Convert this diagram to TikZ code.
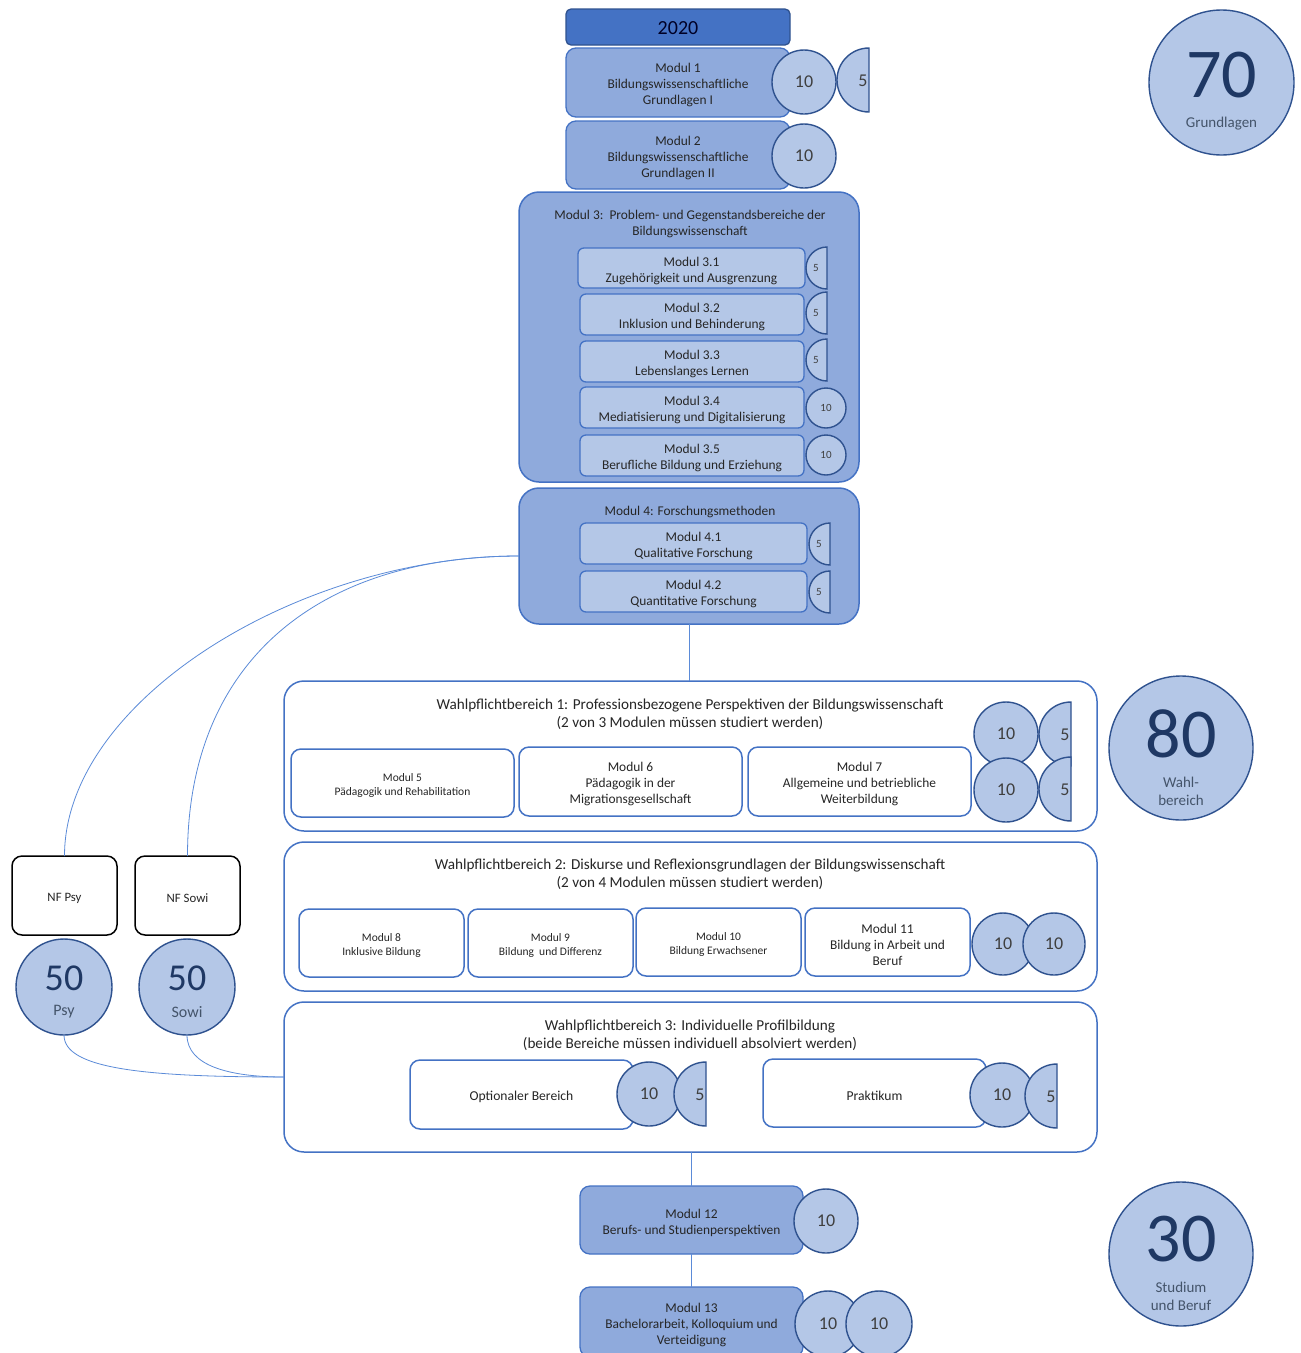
\documentclass[tikz,border=0pt]{standalone}
\usepackage{fontspec}
\setmainfont{Carlito}
\definecolor{med}{HTML}{8FAADC}
\definecolor{lit}{HTML}{B4C7E7}
\definecolor{bl}{HTML}{4472C4}
\definecolor{dk}{HTML}{2F528F}
\definecolor{txt}{HTML}{262626}
\definecolor{numc}{HTML}{3F3F3F}
\definecolor{navy}{HTML}{1F3864}
\definecolor{slate}{HTML}{44546A}
\definecolor{conncol}{HTML}{5B8BD8}
% box node + its text node, text set a little lower than the box centre
\newcommand\modbox[8]{%
  \node[#1, minimum width=#5pt, minimum height=#6pt] (#2) at (#3,#4) {};
  \node[#7] (#2t) at ([yshift=-2.5pt]#2.center) {#8};}
\begin{document}
\begin{tikzpicture}[x=1pt,y=-1pt,
  every node/.style={text=txt, align=center, inner sep=0pt, outer sep=0pt},
  fa/.style={font=\fontsize{13.4}{16}\selectfont},
  fs/.style={font=\fontsize{11.5}{14}\selectfont},
  ft/.style={font=\fontsize{15.2}{18}\selectfont},
  fn/.style={font=\fontsize{18}{18}\selectfont, text=numc},
  fsn/.style={font=\fontsize{11}{11}\selectfont, text=numc},
  medbox/.style={draw=bl, fill=med, line width=1.3pt, rounded corners=10pt},
  bigbox/.style={draw=bl, fill=med, line width=1.5pt, rounded corners=20pt},
  litbox/.style={draw=bl, fill=lit, line width=1.3pt, rounded corners=6pt},
  wbox/.style={draw=bl, fill=white, line width=1.5pt, rounded corners=10pt},
  wbig/.style={draw=bl, fill=white, line width=1.5pt, rounded corners=20pt},
  nfbox/.style={draw=black, fill=white, line width=1.5pt, rounded corners=10pt},
  circ/.style={circle, draw=dk, fill=lit, line width=1.4pt},
  halfd/.style={draw=dk, fill=lit, line width=1.4pt},
  conn/.style={draw=conncol, line width=0.8pt},
]
\clip (0,0) rectangle (1301,1353);
\fill[white] (0,0) rectangle (1301,1353);

% ---- top column
\node[draw=dk, fill=bl, line width=1.3pt, rounded corners=5pt, minimum width=224pt, minimum height=36pt] (y2020) at (678,27) {};
\node[font=\fontsize{20}{20}\selectfont, text=black!85!blue] (y2020t) at (678,28.5) {2020};
\modbox{medbox}{m1}{678}{82.5}{224}{69}{fa}{Modul 1\\Bildungswissenschaftliche\\Grundlagen I}
\node[circ, minimum size=64pt, fn] (c1) at (804,82) {10};
\draw[halfd] (869,48) arc[start angle=90, end angle=270, radius=32pt] -- cycle;
\node[fn] (h1) at (863,81) {5};

\modbox{medbox}{m2}{678}{155}{224}{68}{fa}{Modul 2\\Bildungswissenschaftliche\\Grundlagen II}
\node[circ, minimum size=64pt, fn] (c2) at (804,156) {10};

% ---- Modul 3
\node[bigbox, minimum width=340pt, minimum height=290pt] (m3) at (689,337) {};
\node[fa] (m3t) at (690,224) {Modul 3:\ \ Problem- und Gegenstandsbereiche der\\Bildungswissenschaft};
\modbox{litbox}{m31}{691.5}{268}{227}{40}{fa}{Modul 3.1\\Zugehörigkeit und Ausgrenzung}
\draw[halfd] (827,247) arc[start angle=90, end angle=270, radius=21pt] -- cycle;
\node[fsn] (h31) at (816,268) {5};
\modbox{litbox}{m32}{692}{314.5}{224}{41}{fa}{Modul 3.2\\Inklusion und Behinderung}
\draw[halfd] (827,292) arc[start angle=90, end angle=270, radius=21pt] -- cycle;
\node[fsn] (h32) at (816,313) {5};
\modbox{litbox}{m33}{692}{361.5}{224}{41}{fa}{Modul 3.3\\Lebenslanges Lernen}
\draw[halfd] (827,339) arc[start angle=90, end angle=270, radius=21pt] -- cycle;
\node[fsn] (h33) at (816,360) {5};
\modbox{litbox}{m34}{692}{407.5}{224}{41}{fa}{Modul 3.4\\Mediatisierung und Digitalisierung}
\node[circ, minimum size=40pt, fsn] (c34) at (826,408) {10};
\modbox{litbox}{m35}{692}{455.5}{224}{41}{fa}{Modul 3.5\\Berufliche Bildung und Erziehung}
\node[circ, minimum size=40pt, fsn] (c35) at (826,455) {10};

% ---- Modul 4
\node[bigbox, minimum width=340pt, minimum height=136pt] (m4) at (689,556) {};
\node[fa] (m4t) at (690,512) {Modul 4: Forschungsmethoden};
\modbox{litbox}{m41}{693.5}{543.5}{227}{41}{fa}{Modul 4.1\\Qualitative Forschung}
\draw[halfd] (830,523) arc[start angle=90, end angle=270, radius=21pt] -- cycle;
\node[fsn] (h41) at (819,544) {5};
\modbox{litbox}{m42}{693.5}{591.5}{227}{41}{fa}{Modul 4.2\\Quantitative Forschung}
\draw[halfd] (830,571) arc[start angle=90, end angle=270, radius=21pt] -- cycle;
\node[fsn] (h42) at (819,592) {5};

% ---- NF boxes and circles
\modbox{nfbox}{nfpsy}{64.5}{895.5}{105}{79}{font=\fontsize{12.8}{14}\selectfont}{NF Psy}
\modbox{nfbox}{nfsowi}{187.5}{895.5}{105}{79}{font=\fontsize{12.8}{14}\selectfont}{NF Sowi}
\node[circ, minimum size=96pt] (psyc) at (64,987) {};
\node[font=\fontsize{38}{38}\selectfont, text=navy] (psyn) at (64,978) {50};
\node[font=\fontsize{16}{16}\selectfont, text=slate] (psyl) at (64,1012) {Psy};
\node[circ, minimum size=96pt] (sowic) at (187,987) {};
\node[font=\fontsize{38}{38}\selectfont, text=navy] (sowin) at (187,978) {50};
\node[font=\fontsize{16}{16}\selectfont, text=slate] (sowil) at (187,1012) {Sowi};

% ---- Wahlpflichtbereich 1
\node[wbig, minimum width=813pt, minimum height=150pt] (w1) at (690.5,756) {};
\node[ft] (w1t) at (690,714) {Wahlpflichtbereich 1: Professionsbezogene Perspektiven der Bildungswissenschaft\\(2 von 3 Modulen müssen studiert werden)};
\modbox{wbox}{m5}{402.5}{783}{223}{68}{fs}{Modul 5\\Pädagogik und Rehabilitation}
\modbox{wbox}{m6}{630.5}{781.5}{223}{69}{fa}{Modul 6\\Pädagogik in der\\Migrationsgesellschaft}
\modbox{wbox}{m7}{859.5}{781.5}{223}{69}{fa}{Modul 7\\Allgemeine und betriebliche\\Weiterbildung}
\node[circ, minimum size=64pt, fn] (c1a) at (1006,734) {10};
\draw[halfd] (1071,702) arc[start angle=90, end angle=270, radius=32pt] -- cycle;
\node[fn] (h1a) at (1065,735) {5};
\node[circ, minimum size=64pt, fn] (c1b) at (1006,790) {10};
\draw[halfd] (1071,757) arc[start angle=90, end angle=270, radius=32pt] -- cycle;
\node[fn] (h1b) at (1065,790) {5};

% ---- Wahlpflichtbereich 2
\node[wbig, minimum width=813pt, minimum height=149pt] (w2) at (690.5,916.5) {};
\node[ft] (w2t) at (690,874) {Wahlpflichtbereich 2: Diskurse und Reflexionsgrundlagen der Bildungswissenschaft\\(2 von 4 Modulen müssen studiert werden)};
\modbox{wbox}{m8}{381.5}{943}{165}{68}{fs}{Modul 8\\Inklusive Bildung}
\modbox{wbox}{m9}{550.5}{943}{165}{68}{fs}{Modul 9\\Bildung\ \ und Differenz}
\modbox{wbox}{m10}{718.5}{942}{165}{68}{fs}{Modul 10\\Bildung Erwachsener}
\modbox{wbox}{m11}{887.5}{942}{165}{68}{fa}{Modul 11\\Bildung in Arbeit und\\Beruf}
\node[circ, minimum size=62pt, fn] (c2a) at (1003,944) {10};
\node[circ, minimum size=62pt, fn] (c2b) at (1054,944) {10};

% ---- Wahlpflichtbereich 3
\node[wbig, minimum width=813pt, minimum height=150pt] (w3) at (690.5,1077) {};
\node[ft] (w3t) at (690,1035) {Wahlpflichtbereich 3: Individuelle Profilbildung\\(beide Bereiche müssen individuell absolviert werden)};
\modbox{wbox}{opt}{521.5}{1094.5}{223}{69}{font=\fontsize{13.6}{16}\selectfont}{Optionaler Bereich}
\node[circ, minimum size=64pt, fn] (c3a) at (649,1094) {10};
\draw[halfd] (706,1062) arc[start angle=90, end angle=270, radius=32pt] -- cycle;
\node[fn] (h3a) at (700,1095) {5};
\modbox{wbox}{prak}{874.5}{1093}{223}{68}{font=\fontsize{13.6}{16}\selectfont}{Praktikum}
\node[circ, minimum size=64pt, fn] (c3b) at (1002,1095) {10};
\draw[halfd] (1057,1064) arc[start angle=90, end angle=270, radius=32pt] -- cycle;
\node[fn] (h3b) at (1051,1097) {5};

% ---- Modul 12, 13
\modbox{medbox}{m12}{691.5}{1220}{223}{68}{fa}{Modul 12\\Berufs- und Studienperspektiven}
\node[circ, minimum size=64pt, fn] (c12) at (826,1221) {10};
\modbox{medbox}{m13}{691.5}{1322}{223}{70}{fa}{Modul 13\\Bachelorarbeit, Kolloquium und\\Verteidigung}
\node[circ, minimum size=66pt, fn] (c13a) at (828,1324) {10};
\node[circ, minimum size=66pt, fn] (c13b) at (879,1324) {10};

% ---- big circles
\node[circ, minimum size=145pt] (g70) at (1221.5,82.5) {};
\node[font=\fontsize{70}{70}\selectfont, text=navy] (g70n) at (1221.5,75) {70};
\node[font=\fontsize{15}{15}\selectfont, text=slate] (g70l) at (1221.5,124) {Grundlagen};
\node[circ, minimum size=144pt] (g80) at (1181,748) {};
\node[font=\fontsize{70}{70}\selectfont, text=navy] (g80n) at (1181,734) {80};
\node[font=\fontsize{15}{18}\selectfont, text=slate] (g80l) at (1181,791) {Wahl-\\bereich};
\node[circ, minimum size=144pt] (g30) at (1181,1254) {};
\node[font=\fontsize{70}{70}\selectfont, text=navy] (g30n) at (1181,1239) {30};
\node[font=\fontsize{15}{18}\selectfont, text=slate] (g30l) at (1181,1296) {Studium\\und Beruf};

% ---- connectors
\draw[conn] (m4.south) -- (m4.south |- w1.north);
\draw[conn] (m12.north |- w3.south) -- (m12.north);
\draw[conn] (m12.south) -- (m13.north);
\draw[conn] (m4.west) .. controls (300,556) and (64.5,700) .. (nfpsy.north);
\draw[conn] (m4.west) .. controls (320,556) and (187.5,660) .. (nfsowi.north);
\draw[conn] (psyc.south) .. controls (64,1068) and (140,1077) .. (w3.west);
\draw[conn] (sowic.south) .. controls (187,1066) and (230,1077) .. (w3.west);
\end{tikzpicture}
\end{document}
